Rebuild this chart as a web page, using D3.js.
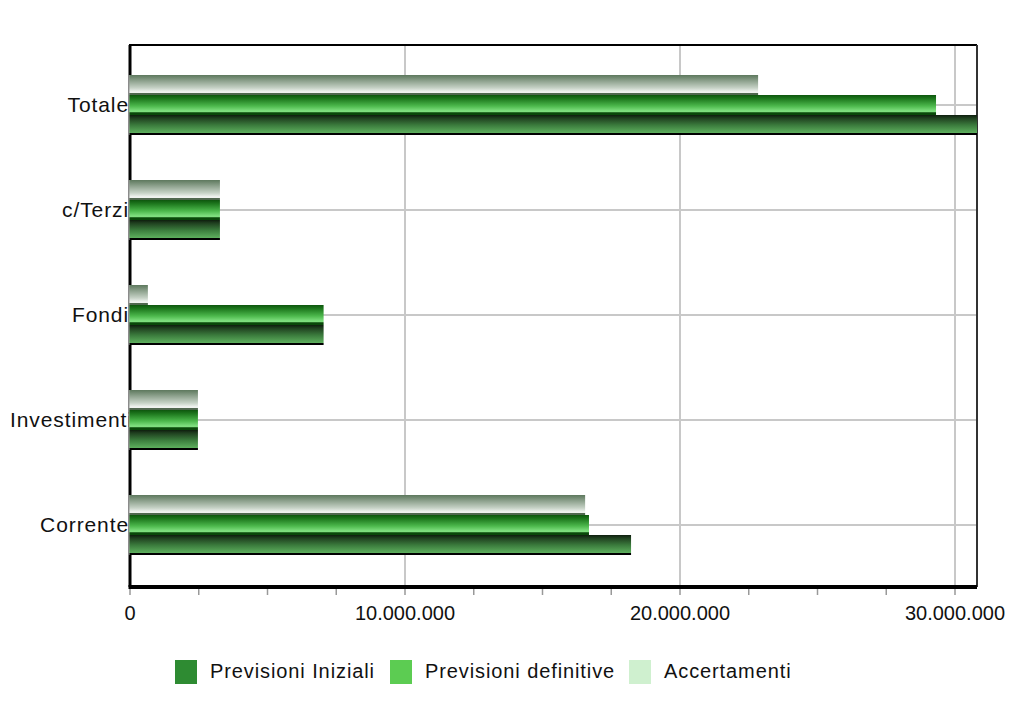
<!DOCTYPE html>
<html>
<head>
<meta charset="utf-8">
<script src="https://cdn.jsdelivr.net/npm/d3@7"></script>
<style>
  html, body { margin: 0; padding: 0; background: #fff; }
  svg { display: block; font-family: "Liberation Sans", Arial, sans-serif; }
</style>
</head>
<body>
<svg id="chart" width="1023" height="711"></svg>
<script>
// ---- data ----
const categories = ["Totale", "c/Terzi", "Fondi", "Investimenti", "Corrente"];
const seriesNames = ["Previsioni Iniziali", "Previsioni definitive", "Accertamenti"];
const previsioniIniziali   = [31000000, 3270000, 7040000, 2470000, 18220000];
const previsioniDefinitive = [29310000, 3270000, 7040000, 2470000, 16690000];
const accertamenti         = [22840000, 3270000,  650000, 2470000, 16550000];
const xTicks = [0, 10000000, 20000000, 30000000];
const xMinorStep = 2500000;
const xMax = 30800000;

const seriesValues = {
  "Previsioni Iniziali": previsioniIniziali,
  "Previsioni definitive": previsioniDefinitive,
  "Accertamenti": accertamenti
};

const legendColors = { "Previsioni Iniziali": "#2e8b32", "Previsioni definitive": "#5ccc52", "Accertamenti": "#cff0cf" };

const svg = d3.select("#chart");
const L = 130, R = 977, T = 45, B = 587;

const it = d3.formatLocale({ decimal: ",", thousands: ".", grouping: [3], currency: ["€", ""] });
const fmt = it.format(",d");

const x = d3.scaleLinear().domain([0, xMax]).range([L, R]);
const y = d3.scaleBand().domain(categories).range([52.5, 577.5]).paddingInner(0.4286).paddingOuter(0.2143);
// order inside a group: top to bottom
const inner = d3.scaleBand().domain(["Accertamenti", "Previsioni definitive", "Previsioni Iniziali"]).range([0, y.bandwidth()]);

// ---- gradients ----
const defs = svg.append("defs");
const grads = {
  "Previsioni Iniziali": [[0, "#0e1e0e"], [0.15, "#1f3f1f"], [0.5, "#3a7a3c"], [0.88, "#5cac5c"], [0.9, "#5aa85a"], [0.91, "#000"], [1, "#000"]],
  "Previsioni definitive": [[0, "#0d560d"], [0.2, "#1f7a1f"], [0.55, "#4cb84c"], [0.8, "#80e080"], [0.86, "#7fdd7f"], [0.88, "#0a480a"], [1, "#0a480a"]],
  "Accertamenti": [[0, "#5d785d"], [0.3, "#8ea28e"], [0.65, "#c6d2c6"], [0.86, "#f4f6f4"], [0.88, "#eef0ee"], [0.9, "#50684f"], [1, "#50684f"]]
};
const gid = n => "g" + seriesNames.indexOf(n);
seriesNames.forEach(n => {
  const g = defs.append("linearGradient").attr("id", gid(n)).attr("x1", 0).attr("y1", 0).attr("x2", 0).attr("y2", 1);
  grads[n].forEach(([o, c]) => g.append("stop").attr("offset", o).attr("stop-color", c));
});
defs.append("clipPath").attr("id", "plotclip").append("rect")
  .attr("x", L - 2).attr("y", T).attr("width", R - L + 2).attr("height", B - T);

// ---- grid ----
svg.append("g").selectAll("line.vg").data(xTicks.filter(d => d > 0)).join("line")
  .attr("x1", d => x(d)).attr("x2", d => x(d)).attr("y1", T).attr("y2", B)
  .attr("stroke", "#c8c8c8").attr("stroke-width", 2);
svg.append("g").selectAll("line.hg").data(categories).join("line")
  .attr("x1", L).attr("x2", R).attr("y1", d => y(d) + y.bandwidth() / 2).attr("y2", d => y(d) + y.bandwidth() / 2)
  .attr("stroke", "#c8c8c8").attr("stroke-width", 2);

// frame top / right
svg.append("line").attr("x1", L - 1).attr("x2", R).attr("y1", T).attr("y2", T).attr("stroke", "#000").attr("stroke-width", 2);
svg.append("line").attr("x1", R).attr("x2", R).attr("y1", T).attr("y2", B).attr("stroke", "#333").attr("stroke-width", 2);

// ---- y labels (drawn under the bars; right aligned, but never left of the margin) ----
const leftMargin = 10;
svg.append("g").selectAll("text").data(categories).join("text")
  .attr("y", d => y(d) + y.bandwidth() / 2 + 7)
  .attr("font-size", 21).attr("letter-spacing", "0.9px").attr("fill", "#111").text(d => d)
  .each(function () {
    const w = this.getComputedTextLength();
    const x0 = Math.max(leftMargin, L - 1 - w);
    d3.select(this).attr("x", x0).attr("text-anchor", "start");
  });

svg.append("line").attr("x1", L).attr("x2", L).attr("y1", T).attr("y2", B).attr("stroke", "#000").attr("stroke-width", 3);

// ---- bars ----
const barsG = svg.append("g").attr("clip-path", "url(#plotclip)");
categories.forEach((c, i) => {
  seriesNames.forEach(n => {
    const v = seriesValues[n][i];
    barsG.append("rect")
      .attr("x", x(0) - 1)
      .attr("y", y(c) + inner(n))
      .attr("width", x(v) - x(0) + 1)
      .attr("height", inner.bandwidth())
      .attr("fill", `url(#${gid(n)})`);
  });
  barsG.append("line").attr("x1", x(0) - 1).attr("x2", x(0) - 1)
    .attr("y1", y(c)).attr("y2", y(c) + y.bandwidth()).attr("stroke", "#999").attr("stroke-width", 1);
});

// ---- x axis ----
const minorTicks = d3.range(0, xMax + 1, xMinorStep);
svg.append("g").selectAll("line").data(minorTicks).join("line")
  .attr("x1", d => x(d)).attr("x2", d => x(d)).attr("y1", B).attr("y2", B + 8)
  .attr("stroke", "#999").attr("stroke-width", 1.5);
svg.append("line").attr("x1", L - 1.5).attr("x2", R).attr("y1", B).attr("y2", B)
  .attr("stroke", "#000").attr("stroke-width", 4);
svg.append("g").selectAll("text").data(xTicks).join("text")
  .attr("x", d => x(d)).attr("y", 620).attr("text-anchor", "middle")
  .attr("font-size", 20).attr("fill", "#111").text(d => fmt(d));

// ---- legend ----
const legendX = [175, 390, 629];
const lg = svg.append("g");
seriesNames.forEach((n, i) => {
  lg.append("rect").attr("x", legendX[i]).attr("y", 660).attr("width", 22).attr("height", 24).attr("fill", legendColors[n]);
  lg.append("text").attr("x", legendX[i] + 35).attr("y", 678).attr("font-size", 20)
    .attr("letter-spacing", "0.9px").attr("fill", "#111").text(n);
});
</script>
</body>
</html>
